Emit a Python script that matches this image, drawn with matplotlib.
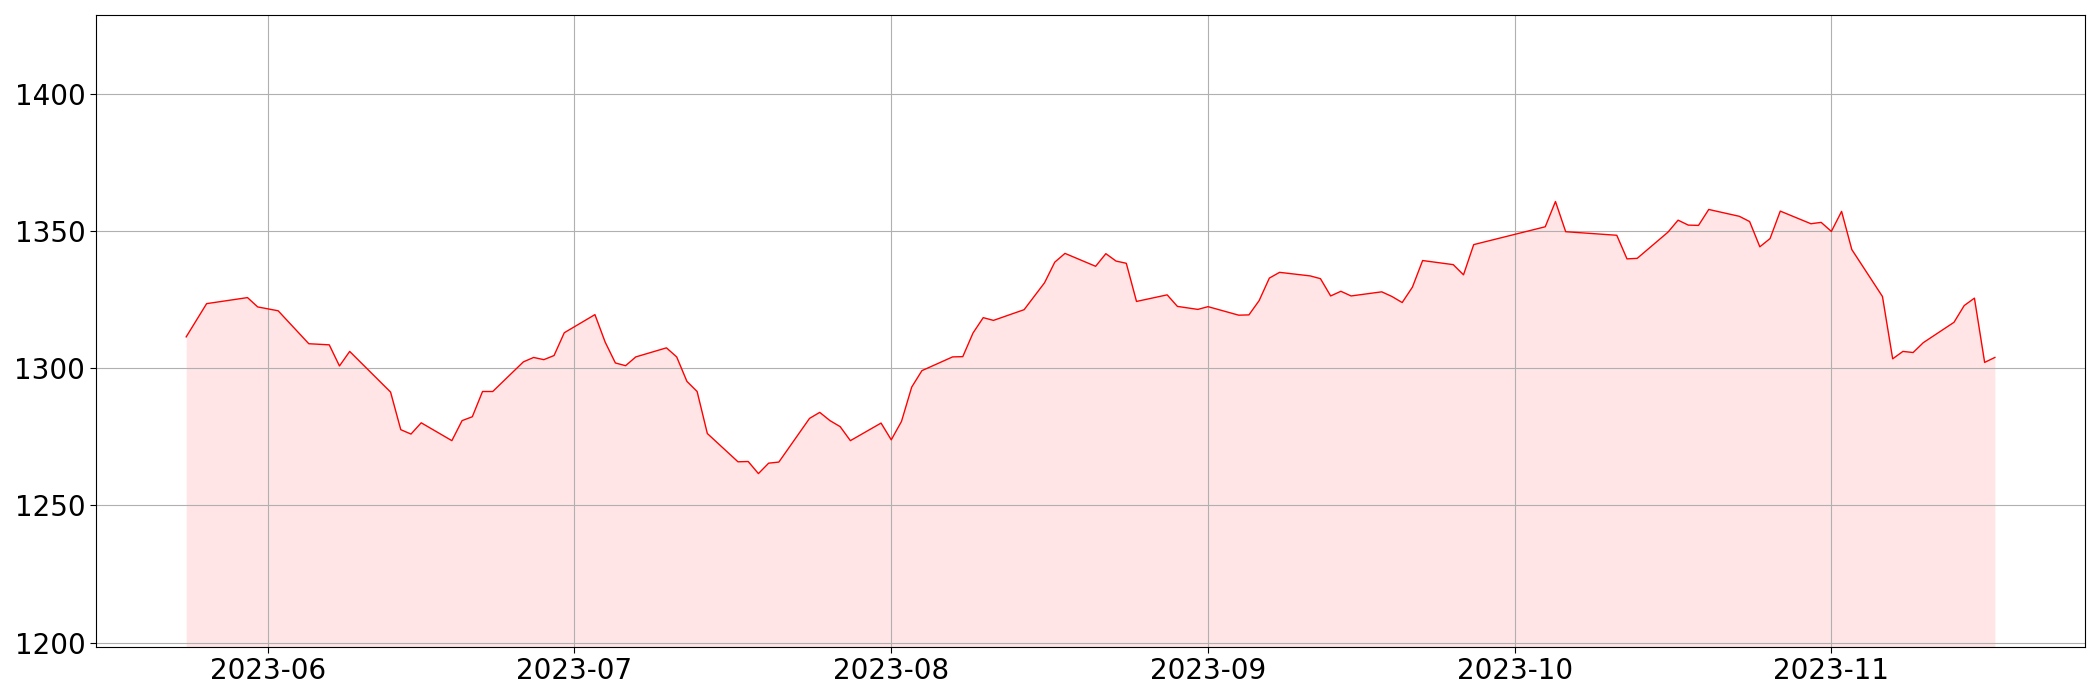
import pandas as pd
import matplotlib
matplotlib.use('agg')
import matplotlib.pyplot as plt
import matplotlib.dates as mdates

# daily closes (only the turning points)
dates = ['2023-05-24', '2023-05-26', '2023-05-30', '2023-05-31', '2023-06-02',
         '2023-06-05', '2023-06-07', '2023-06-08', '2023-06-09', '2023-06-13',
         '2023-06-14', '2023-06-15', '2023-06-16', '2023-06-19', '2023-06-20',
         '2023-06-21', '2023-06-22', '2023-06-23', '2023-06-26', '2023-06-27',
         '2023-06-28', '2023-06-29', '2023-06-30', '2023-07-03', '2023-07-04',
         '2023-07-05', '2023-07-06', '2023-07-07', '2023-07-10', '2023-07-11',
         '2023-07-12', '2023-07-13', '2023-07-14', '2023-07-17', '2023-07-18',
         '2023-07-19', '2023-07-20', '2023-07-21', '2023-07-24', '2023-07-25',
         '2023-07-26', '2023-07-27', '2023-07-28', '2023-07-31', '2023-08-01',
         '2023-08-02', '2023-08-03', '2023-08-04', '2023-08-07', '2023-08-08',
         '2023-08-09', '2023-08-10', '2023-08-11', '2023-08-14', '2023-08-16',
         '2023-08-17', '2023-08-18', '2023-08-21', '2023-08-22', '2023-08-23',
         '2023-08-24', '2023-08-25', '2023-08-28', '2023-08-29', '2023-08-31',
         '2023-09-01', '2023-09-04', '2023-09-05', '2023-09-06', '2023-09-07',
         '2023-09-08', '2023-09-11', '2023-09-12', '2023-09-13', '2023-09-14',
         '2023-09-15', '2023-09-18', '2023-09-19', '2023-09-20', '2023-09-21',
         '2023-09-22', '2023-09-25', '2023-09-26', '2023-09-27', '2023-10-04',
         '2023-10-05', '2023-10-06', '2023-10-11', '2023-10-12', '2023-10-13',
         '2023-10-16', '2023-10-17', '2023-10-18', '2023-10-19', '2023-10-20',
         '2023-10-23', '2023-10-24', '2023-10-25', '2023-10-26', '2023-10-27',
         '2023-10-30', '2023-10-31', '2023-11-01', '2023-11-02', '2023-11-03',
         '2023-11-06', '2023-11-07', '2023-11-08', '2023-11-09', '2023-11-10',
         '2023-11-13', '2023-11-14', '2023-11-15', '2023-11-16', '2023-11-17']

close = [1311.4, 1323.5, 1325.7, 1322.3, 1320.9,
         1308.9, 1308.5, 1300.8, 1306.1, 1291.3,
         1277.6, 1276.0, 1280.1, 1273.6, 1280.9,
         1282.3, 1291.5, 1291.5, 1302.3, 1303.9,
         1303.1, 1304.6, 1312.9, 1319.5, 1309.5,
         1301.9, 1300.9, 1304.1, 1307.4, 1304.1,
         1295.2, 1291.5, 1276.2, 1265.9, 1266.0,
         1261.6, 1265.4, 1265.8, 1281.7, 1283.9,
         1280.9, 1278.7, 1273.6, 1280.0, 1273.9,
         1280.6, 1293.1, 1299.1, 1304.1, 1304.2,
         1312.8, 1318.4, 1317.4, 1321.3, 1331.1,
         1338.6, 1341.8, 1337.1, 1341.7, 1339.0,
         1338.2, 1324.3, 1326.7, 1322.5, 1321.4,
         1322.4, 1319.3, 1319.4, 1324.6, 1332.8,
         1334.9, 1333.6, 1332.6, 1326.3, 1328.0,
         1326.3, 1327.8, 1326.1, 1323.9, 1329.5,
         1339.2, 1337.7, 1334.0, 1345.0, 1351.5,
         1360.7, 1349.7, 1348.4, 1339.8, 1340.0,
         1349.5, 1353.9, 1352.1, 1352.0, 1357.8,
         1355.3, 1353.4, 1344.2, 1347.2, 1357.2,
         1352.6, 1353.1, 1349.8, 1357.1, 1343.2,
         1326.1, 1303.4, 1306.1, 1305.7, 1309.3,
         1316.7, 1322.8, 1325.5, 1302.1, 1303.9]

df = pd.DataFrame({'date': pd.to_datetime(dates), 'close': close})

ymin = df['close'].min() * 0.95
ymax = df['close'].max() * 1.05

fig, ax = plt.subplots(figsize=(21, 7), dpi=100)

ax.plot(df['date'], df['close'], color='red', linewidth=1)
ax.fill_between(df['date'], df['close'], ymin, color='red', alpha=0.1, linewidth=0)

ax.set_ylim(ymin, ymax)
ax.xaxis.set_major_locator(mdates.MonthLocator())
ax.xaxis.set_major_formatter(mdates.DateFormatter('%Y-%m'))
ax.tick_params(labelsize=20, length=4)
ax.grid(True)

fig.subplots_adjust(left=0.0456, right=0.993, top=0.979, bottom=0.076)
fig.savefig('out.png', dpi=100)
